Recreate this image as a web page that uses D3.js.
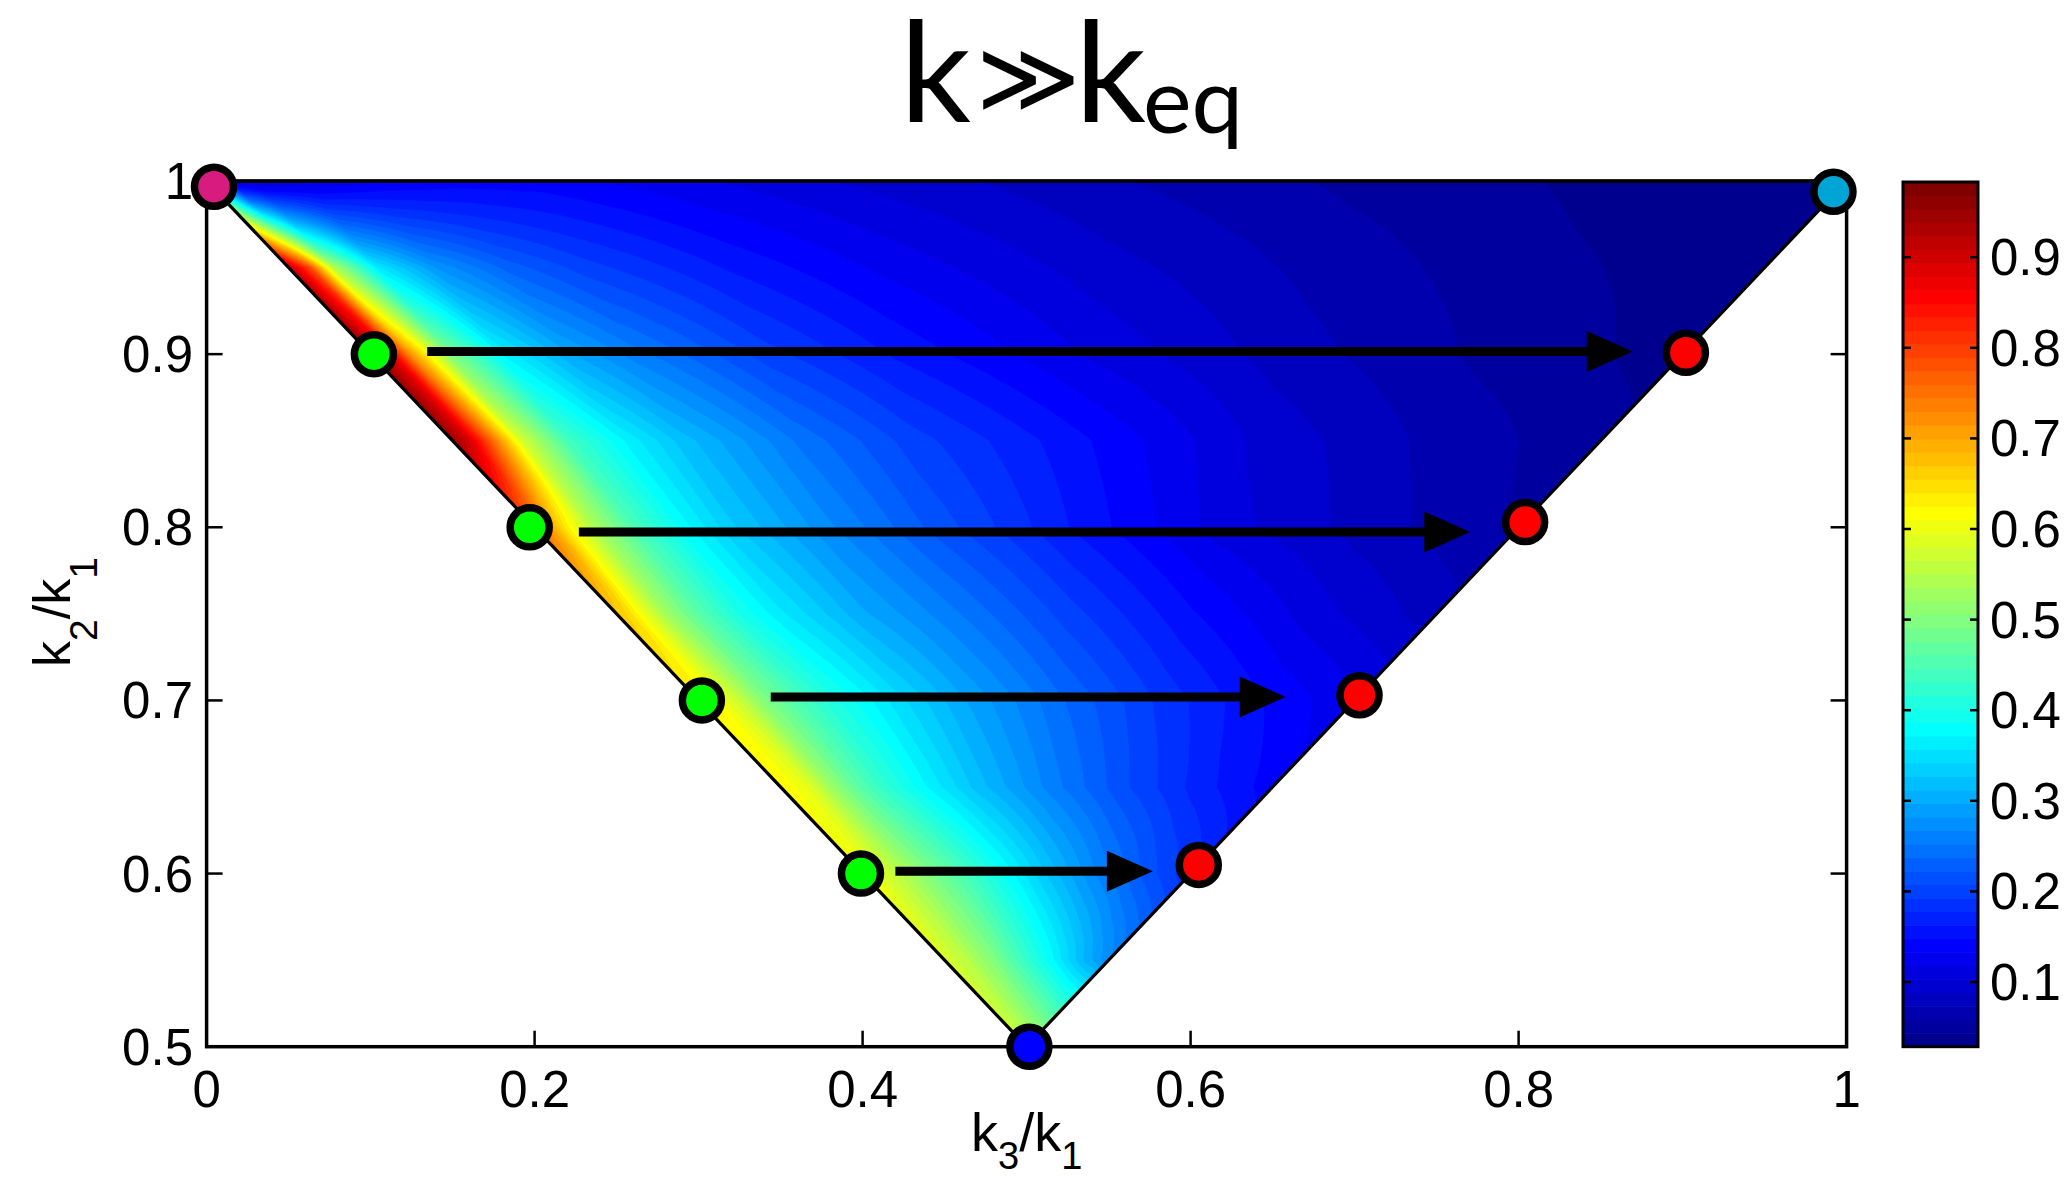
<!DOCTYPE html>
<html><head><meta charset="utf-8">
<script src="https://cdn.jsdelivr.net/npm/d3@7"></script>
<style>body{margin:0;background:#fff} svg{display:block}</style>
</head><body>
<svg id="chart" width="2069" height="1181"></svg>
<script>
// ---------------- data ----------------
const xTicks = [0, 0.2, 0.4, 0.6, 0.8, 1];
const xTickLabels = ["0", "0.2", "0.4", "0.6", "0.8", "1"];
const yTicks = [0.5, 0.6, 0.7, 0.8, 0.9, 1];
const yTickLabels = ["0.5", "0.6", "0.7", "0.8", "0.9", "1"];
const cbTicks = [0.1, 0.2, 0.3, 0.4, 0.5, 0.6, 0.7, 0.8, 0.9];
const cbTickLabels = ["0.1", "0.2", "0.3", "0.4", "0.5", "0.6", "0.7", "0.8", "0.9"];
const colorMin = 0.0286, colorMax = 0.983;

const triangleX = [0, 1, 0.5];
const triangleY = [1, 1, 0.5];

// field: rows of constant k2/k1, columns = fraction across the row
const rowY = [1.0, 0.95, 0.9, 0.85, 0.8, 0.75, 0.7, 0.65, 0.6, 0.55, 0.5];
const colU = [0, 0.015, 0.03, 0.06, 0.1, 0.15, 0.2, 0.3, 0.4, 0.55, 0.7, 0.85, 1.0];
const z100 = [0.30, 0.09, 0.09, 0.11, 0.13, 0.14, 0.14, 0.12, 0.10, 0.075, 0.055, 0.04, 0.03];
const z095 = [0.92, 0.78, 0.55, 0.36, 0.28, 0.23, 0.20, 0.16, 0.13, 0.095, 0.068, 0.047, 0.034];
const z090 = [0.96, 0.88, 0.72, 0.50, 0.37, 0.30, 0.26, 0.20, 0.16, 0.115, 0.08, 0.055, 0.037];
const z085 = [0.95, 0.89, 0.79, 0.58, 0.44, 0.37, 0.32, 0.25, 0.20, 0.15, 0.10, 0.07, 0.048];
const z080 = [0.76, 0.71, 0.64, 0.54, 0.45, 0.38, 0.33, 0.27, 0.22, 0.16, 0.11, 0.08, 0.055];
const z075 = [0.67, 0.65, 0.61, 0.53, 0.46, 0.40, 0.36, 0.30, 0.26, 0.20, 0.15, 0.11, 0.08];
const z070 = [0.63, 0.62, 0.61, 0.57, 0.50, 0.45, 0.41, 0.35, 0.30, 0.24, 0.19, 0.15, 0.12];
const z065 = [0.62, 0.615, 0.61, 0.59, 0.53, 0.47, 0.43, 0.37, 0.32, 0.26, 0.21, 0.17, 0.14];
const z060 = [0.61, 0.60, 0.60, 0.58, 0.56, 0.53, 0.50, 0.45, 0.40, 0.33, 0.27, 0.22, 0.18];
const z055 = [0.58, 0.58, 0.58, 0.57, 0.56, 0.55, 0.53, 0.50, 0.46, 0.41, 0.36, 0.31, 0.27];
const z050 = [0.56, 0.56, 0.56, 0.56, 0.56, 0.56, 0.56, 0.56, 0.56, 0.56, 0.56, 0.56, 0.56];

const markerX = [0.0045, 0.992, 0.5017, 0.102, 0.197, 0.302, 0.399, 0.902, 0.804, 0.703, 0.605];
const markerY = [0.9967, 0.9938, 0.5, 0.9, 0.8, 0.7, 0.6, 0.9008, 0.803, 0.703, 0.605];
const markerColor = ["#d81b7e", "#00a5d6", "#0000ff", "#00ff00", "#00ff00", "#00ff00", "#00ff00",
                     "#ff0000", "#ff0000", "#ff0000", "#ff0000"];

const arrowStartX = [0.1345, 0.227, 0.344, 0.420];
const arrowEndX = [0.8696, 0.7705, 0.658, 0.577];
const arrowY = [0.9015, 0.7973, 0.702, 0.6014];

// ---------------- layout ----------------
const W = 2069, H = 1181;
const plot = {left: 206.6, right: 1846.6, top: 181, bottom: 1046.7};
const cb = {left: 1903, right: 1978, top: 182, bottom: 1046.7};
const FONT = "'Liberation Sans', Arial, Helvetica, sans-serif";

const svg = d3.select("#chart");
svg.append("rect").attr("width", W).attr("height", H).attr("fill", "#fff");

const x = d3.scaleLinear().domain([0, 1]).range([plot.left, plot.right]);
const y = d3.scaleLinear().domain([0.5, 1]).range([plot.bottom, plot.top]);
const cy = d3.scaleLinear().domain([colorMin, colorMax]).range([cb.bottom, cb.top]);

// MATLAB jet(64)
function jet64() {
  const n = 16, u = [];
  for (let j = 1; j <= n; j++) u.push(j / n);
  for (let j = 1; j < n; j++) u.push(1);
  for (let j = n; j >= 1; j--) u.push(j / n);
  const cols = [];
  for (let k = 1; k <= 64; k++) {
    const gi = k - 8, ri = k - 24, bi = k + 8;
    const pick = i => (i >= 1 && i <= u.length) ? u[i - 1] : 0;
    cols.push(d3.rgb(pick(ri) * 255, pick(gi) * 255, pick(bi) * 255).formatHex());
  }
  return cols;
}
const jet = jet64();
const nLev = jet.length;
const thresholds = d3.range(nLev).map(i => colorMin + i * (colorMax - colorMin) / nLev);

const zRows = [z100, z095, z090, z085, z080, z075, z070, z065, z060, z055, z050];

function fieldAt(px, py) {
  const width = Math.max(2 * py - 1, 1e-6);
  let u = (px - (1 - py)) / width;
  u = Math.max(0, Math.min(1, u));
  let r = 0;
  while (r < rowY.length - 2 && py < rowY[r + 1]) r++;
  const ty = Math.max(0, Math.min(1, (rowY[r] - py) / (rowY[r] - rowY[r + 1])));
  let c = 0;
  while (c < colU.length - 2 && u > colU[c + 1]) c++;
  const tu = Math.max(0, Math.min(1, (u - colU[c]) / (colU[c + 1] - colU[c])));
  const a = zRows[r][c] * (1 - tu) + zRows[r][c + 1] * tu;
  const b = zRows[r + 1][c] * (1 - tu) + zRows[r + 1][c + 1] * tu;
  return a * (1 - ty) + b * ty;
}

const nx = 601, ny = 301;
const dx = 1 / (nx - 1), dy = 0.5 / (ny - 1);
const grid = new Float64Array(nx * ny);
for (let j = 0; j < ny; j++) {
  const py = 1 - j * dy;
  for (let i = 0; i < nx; i++) {
    const v = fieldAt(i * dx, py);
    grid[i + j * nx] = Math.max(colorMin + 1e-6, Math.min(colorMax, v));
  }
}
const contours = d3.contours().size([nx, ny]).thresholds(thresholds)(grid);
const proj = d3.geoTransform({
  point: function (gx, gy) {
    this.stream.point(x((gx - 0.5) * dx), y(1 - (gy - 0.5) * dy));
  }
});
const path = d3.geoPath(proj);

const triPts = triangleX.map((tx, i) => [x(tx), y(triangleY[i])]);
const triPath = "M" + triPts.map(p => p.join(",")).join("L") + "Z";

svg.append("clipPath").attr("id", "tri").append("path").attr("d", triPath);
svg.append("g").attr("clip-path", "url(#tri)")
  .selectAll("path").data(contours).join("path")
  .attr("d", path)
  .attr("fill", (d, i) => jet[i])
  .attr("stroke", (d, i) => jet[i]).attr("stroke-width", 0.6);

svg.append("path").attr("d", triPath).attr("fill", "none")
  .attr("stroke", "#000").attr("stroke-width", 3.2).attr("stroke-linejoin", "miter");

// axes box
const axG = svg.append("g").attr("stroke", "#000").attr("stroke-width", 3.5).attr("fill", "none");
axG.append("rect").attr("x", plot.left).attr("y", plot.top)
  .attr("width", plot.right - plot.left).attr("height", plot.bottom - plot.top);
const tickLen = 16;
axG.selectAll(".xt").data(xTicks).join("line")
  .attr("x1", d => x(d)).attr("x2", d => x(d))
  .attr("y1", plot.bottom).attr("y2", plot.bottom - tickLen).attr("stroke-width", 2.5);
axG.selectAll(".ytl").data(yTicks).join("line")
  .attr("x1", plot.left).attr("x2", plot.left + tickLen)
  .attr("y1", d => y(d)).attr("y2", d => y(d)).attr("stroke-width", 2.5);
axG.selectAll(".ytr").data(yTicks).join("line")
  .attr("x1", plot.right).attr("x2", plot.right - tickLen)
  .attr("y1", d => y(d)).attr("y2", d => y(d)).attr("stroke-width", 2.5);

// tick labels
svg.append("g").selectAll("text").data(xTicks).join("text")
  .attr("x", d => x(d)).attr("y", 1107).attr("text-anchor", "middle")
  .attr("font-family", FONT).attr("font-size", 51).text((d, i) => xTickLabels[i]);
svg.append("g").selectAll("text").data(yTicks).join("text")
  .attr("x", 193).attr("y", d => y(d) + 18).attr("text-anchor", "end")
  .attr("font-family", FONT).attr("font-size", 51).text((d, i) => yTickLabels[i]);

// axis labels
const xl = svg.append("text").attr("x", 971).attr("y", 1151)
  .attr("font-family", FONT).attr("font-size", 54);
xl.append("tspan").text("k");
xl.append("tspan").attr("font-size", 38).attr("dy", 18).text("3");
xl.append("tspan").attr("dy", -18).text("/k");
xl.append("tspan").attr("font-size", 38).attr("dy", 18).text("1");

const yl = svg.append("text").attr("transform", "translate(70,667) rotate(-90)")
  .attr("font-family", FONT).attr("font-size", 52);
yl.append("tspan").text("k");
yl.append("tspan").attr("font-size", 39).attr("dy", 27).text("2");
yl.append("tspan").attr("dy", -27).text("/k");
yl.append("tspan").attr("font-size", 39).attr("dy", 27).text("1");

// title
const TF = "Lato, 'Open Sans', sans-serif";
const title = svg.append("g");
title.append("text").attr("x", 900).attr("y", 121.7).attr("font-family", TF)
  .attr("font-size", 140).text("k");
title.append("text").attr("x", 976).attr("y", 112).attr("font-family", "'DejaVu Sans', sans-serif")
  .attr("font-size", 100).text("≫");
title.append("text").attr("x", 1075).attr("y", 121.7).attr("font-family", TF)
  .attr("font-size", 140).text("k");
title.append("text").attr("x", 1143).attr("y", 133).attr("font-family", TF)
  .attr("font-size", 92).text("eq");

// arrows
const arrG = svg.append("g");
const headLen = 46, headHalf = 20.5;
arrowY.forEach((ay, i) => {
  const x0 = x(arrowStartX[i]), x1 = x(arrowEndX[i]), yy = y(ay);
  arrG.append("line").attr("x1", x0).attr("x2", x1 - headLen + 2)
    .attr("y1", yy).attr("y2", yy).attr("stroke", "#000").attr("stroke-width", 9);
  arrG.append("path")
    .attr("d", `M${x1},${yy}L${x1 - headLen},${yy - headHalf}L${x1 - headLen},${yy + headHalf}Z`)
    .attr("fill", "#000");
});

// markers
svg.append("g").selectAll("circle").data(markerX).join("circle")
  .attr("cx", d => x(d)).attr("cy", (d, i) => y(markerY[i])).attr("r", 19.5)
  .attr("fill", (d, i) => markerColor[i]).attr("stroke", "#000").attr("stroke-width", 7.5);

// colorbar
const cbG = svg.append("g");
cbG.selectAll("rect").data(thresholds).join("rect")
  .attr("x", cb.left).attr("width", cb.right - cb.left)
  .attr("y", (d, i) => cy(i === nLev - 1 ? colorMax : thresholds[i + 1]))
  .attr("height", (d, i) => cy(d) - cy(i === nLev - 1 ? colorMax : thresholds[i + 1]) + 0.6)
  .attr("fill", (d, i) => jet[i]);
cbG.append("rect").attr("x", cb.left).attr("y", cb.top)
  .attr("width", cb.right - cb.left).attr("height", cb.bottom - cb.top)
  .attr("fill", "none").attr("stroke", "#000").attr("stroke-width", 3);
cbG.selectAll(".cl").data(cbTicks).join("line")
  .attr("x1", cb.left).attr("x2", cb.left + 8).attr("y1", d => cy(d)).attr("y2", d => cy(d))
  .attr("stroke", "#000").attr("stroke-width", 2.5);
cbG.selectAll(".cr").data(cbTicks).join("line")
  .attr("x1", cb.right).attr("x2", cb.right - 8).attr("y1", d => cy(d)).attr("y2", d => cy(d))
  .attr("stroke", "#000").attr("stroke-width", 2.5);
cbG.selectAll("text").data(cbTicks).join("text")
  .attr("x", 1990).attr("y", d => cy(d) + 18)
  .attr("font-family", FONT).attr("font-size", 51).text((d, i) => cbTickLabels[i]);
</script>
</body></html>
